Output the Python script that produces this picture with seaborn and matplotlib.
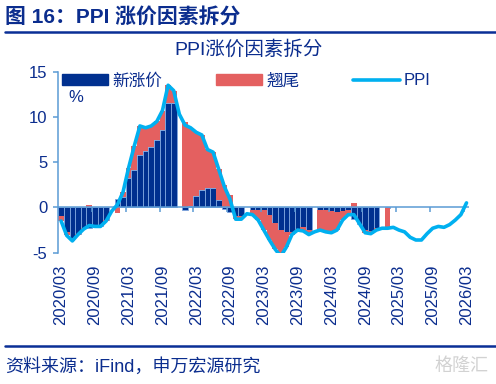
import numpy as np
import pandas as pd
import matplotlib
matplotlib.use("Agg")
from matplotlib import pyplot as plt
from matplotlib.patches import Patch
from matplotlib.lines import Line2D
import seaborn as sns

# months shown on the category axis
months = pd.date_range("2020-03-01", "2026-03-01", freq="MS").strftime("%Y/%m").tolist()

# PPI yoy (%)
ppi = [-1.5, -3.1, -3.7, -3.0, -2.4, -2.0, -2.1, -2.1, -1.5, -0.4,
       0.3, 1.7, 4.4, 6.8, 9.0, 8.8, 9.0, 9.5, 10.7, 13.5, 12.9, 10.3,
       9.1, 8.8, 8.3, 8.0, 6.4, 6.1, 4.2, 2.3, 0.9, -1.3, -1.3, -0.7,
       -0.8, -1.4, -2.5, -3.6, -4.6, -5.4, -4.4, -3.0, -2.5, -2.6, -3.0, -2.7,
       -2.5, -2.7, -2.8, -2.5, -1.4, -0.8, -0.8, -1.8, -2.8, -2.9, -2.5, -2.3,
       -2.3, -2.2, -2.5, -2.7, -3.3, -3.6, -3.6, -2.9, -2.3, -2.1, -2.2, -1.9,
       -1.4, -0.8, 0.5]

# 新涨价 (new price factor), NaN = no bar
new_price = [-0.9, -2.7, -3.4, -2.9, -2.3, -2.3, -2.1, -2.1, -1.4, np.nan,
             0.9, 1.2, 3.2, 4.1, 5.8, 6.2, 6.7, 7.4, 8.6, 11.5, 11.5, np.nan,
             -0.3, 0.2, 1.3, 1.9, 2.1, 2.1, 0.8, -0.2, -0.5, -1.0, -0.9, np.nan,
             -0.3, -0.3, -0.3, -0.8, -1.7, -2.5, -2.7, -2.7, -2.4, -2.2, -2.5, np.nan,
             -0.3, -0.3, -0.4, -0.5, -0.4, -0.3, -1.3, -1.8, -2.5, -2.6, -2.3, np.nan,
             -0.1] + [np.nan] * 14

# 翘尾 (carry-over factor)
carry = [-0.6, -0.4, -0.3, -0.1, -0.1, 0.3, 0.0, 0.0, -0.1, np.nan,
         -0.6, 0.5, 1.2, 2.7, 3.2, 2.6, 2.3, 2.1, 2.1, 2.0, 1.4, np.nan,
         9.4, 8.6, 7.0, 6.1, 4.3, 4.0, 3.4, 2.5, 1.4, -0.3, -0.4, np.nan,
         -0.5, -1.1, -2.2, -2.8, -2.9, -2.9, -1.7, -0.3, -0.1, -0.4, -0.5, np.nan,
         -2.2, -2.4, -2.4, -2.0, -1.0, -0.5, 0.5, 0.0, -0.3, -0.3, -0.2, np.nan,
         -2.2] + [np.nan] * 14

navy = "#0B2D8E"
bar_blue = "#00308F"
bar_red = "#E46060"
line_blue = "#00B0F0"
axis_blue = "#5B9BD5"

sns.set_theme(style="white")
plt.rcParams["font.family"] = ["Liberation Sans", "Noto Sans CJK SC"]
plt.rcParams["axes.unicode_minus"] = False

df = pd.DataFrame({"month": months, "ppi": ppi, "new": new_price, "carry": carry})
df["pos"] = np.arange(len(df))

fig = plt.figure(figsize=(4.96, 3.84), dpi=100)
ax = fig.add_axes([0.1175, 0.342, 0.8287, 0.4714])

# stacked bars: new price first, carry-over stacked on same-sign side
sns.barplot(data=df, x="month", y="new", order=months, color=bar_blue, saturation=1,
            width=1.0, edgecolor="#7FA6DE", linewidth=0.6, errorbar=None, ax=ax)
new0 = df["new"].fillna(0)
bottom = np.where(np.sign(new0) == np.sign(df["carry"].fillna(0)), new0, 0)
ax.bar(df["pos"], df["carry"], bottom=bottom, width=1.0, color=bar_red, linewidth=0, zorder=2)

ax.axhline(0, color=axis_blue, lw=1.1, zorder=3)
ax.vlines(np.arange(5.5, len(months), 6), -0.5, 0, color=axis_blue, lw=1.1, zorder=3)

sns.lineplot(data=df, x="pos", y="ppi", color=line_blue, linewidth=2.6, ax=ax, zorder=4)
ax.lines[-1].set_solid_joinstyle("round")

ax.set_xlim(-0.5, len(months) - 0.5)
ax.set_ylim(-5, 15)
ax.set_yticks([-5, 0, 5, 10, 15])
ax.set_xticks(range(0, len(months), 6))
ax.set_xticklabels(months[::6], rotation=90)
ax.set_xlabel("")
ax.set_ylabel("")

for s in ["top", "right", "bottom"]:
    ax.spines[s].set_visible(False)
ax.spines["left"].set_color(axis_blue)
ax.spines["left"].set_linewidth(1.1)
ax.tick_params(axis="y", left=True, length=3.6, width=1.1, color=axis_blue,
               labelcolor=navy, labelsize=12, pad=4.3)
ax.tick_params(axis="x", bottom=False, length=0, labelcolor=navy, labelsize=12, pad=8.5)

handles = [Patch(color=bar_blue), Patch(color=bar_red), Line2D([], [], color=line_blue, lw=2.6)]
fig.legend(handles, ["新涨价", "翘尾", "PPI"], loc="upper left", bbox_to_anchor=(0.124, 0.81),
           ncol=3, frameon=False, fontsize=12, handlelength=2.8, handletextpad=0.25,
           columnspacing=3.2, borderpad=0, borderaxespad=0, labelcolor=navy)
fig.text(0.153, 0.746, "%", color=navy, fontsize=12, ha="center", va="center")

fig.text(0.502, 0.872, "PPI涨价因素拆分", color=navy, fontsize=14, ha="center", va="center")
fig.text(0.01, 0.956, "图 16：PPI 涨价因素拆分", color=navy, fontsize=15, fontweight="bold",
         ha="left", va="center")
fig.add_artist(Line2D([0.01, 1.0], [0.9167, 0.9167], color="#0A2F96", lw=1.8))
fig.add_artist(Line2D([0.01, 1.0], [0.0995, 0.0995], color="#0A2F96", lw=1.8))
fig.text(0.01, 0.0456, "资料来源：iFind，申万宏源研究", color=navy, fontsize=13,
         ha="left", va="center")
fig.text(0.985, 0.0456, "格隆汇", color="#D2D2D2", fontsize=13, ha="right", va="center")

plt.savefig("out.png", dpi=100)
